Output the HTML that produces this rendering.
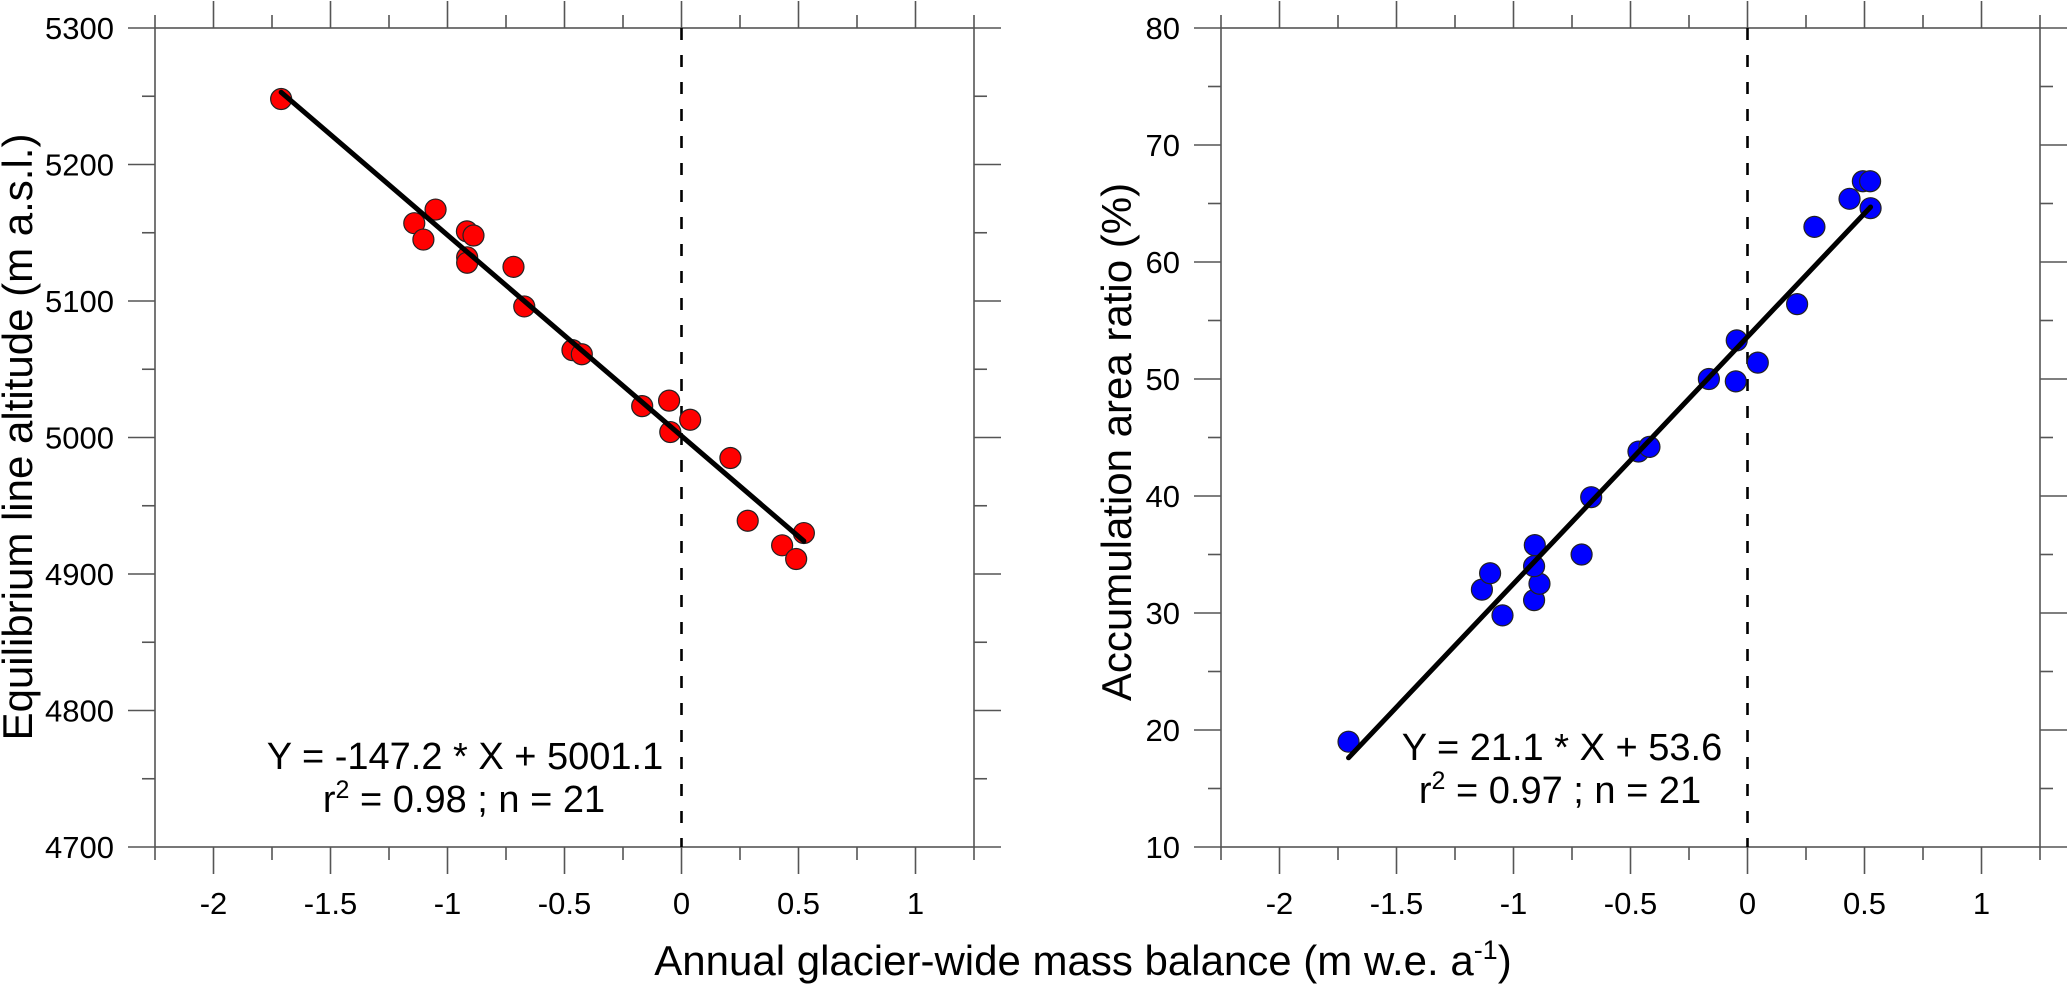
<!DOCTYPE html>
<html><head><meta charset="utf-8"><style>
html,body{margin:0;padding:0;background:#fff;}
svg{display:block;font-family:"Liberation Sans",Arial,sans-serif;}
</style></head><body>
<svg id="chart" width="2068" height="985" viewBox="0 0 2068 985" xmlns="http://www.w3.org/2000/svg">
<g id="left"></g>
<g id="right"></g>
<text x="1083" y="975" font-size="42" text-anchor="middle">Annual glacier-wide mass balance (m w.e. a<tspan font-size="27" dy="-16">-1</tspan><tspan dy="16">)</tspan></text>
<text transform="translate(32,437) rotate(-90)" font-size="42" text-anchor="middle">Equilibrium line altitude (m a.s.l.)</text>
<text transform="translate(1131,442) rotate(-90)" font-size="42" text-anchor="middle">Accumulation area ratio (%)</text>
<text x="465" y="769" font-size="38" text-anchor="middle">Y = -147.2 * X + 5001.1</text>
<text x="464" y="812" font-size="38" text-anchor="middle">r<tspan font-size="25" dy="-14">2</tspan><tspan dy="14"> = 0.98 ; n = 21</tspan></text>
<text x="1562" y="760" font-size="38" text-anchor="middle">Y = 21.1 * X + 53.6</text>
<text x="1560" y="803" font-size="38" text-anchor="middle">r<tspan font-size="25" dy="-14">2</tspan><tspan dy="14"> = 0.97 ; n = 21</tspan></text>
</svg>
<script>
const xTicks = [-2, -1.5, -1, -0.5, 0, 0.5, 1];
const xTickLabels = ["-2", "-1.5", "-1", "-0.5", "0", "0.5", "1"];
const elaTicks = [4700, 4800, 4900, 5000, 5100, 5200, 5300];
const aarTicks = [10, 20, 30, 40, 50, 60, 70, 80];
const elaX = [-1.711,-1.051,-1.142,-1.103,-0.917,-0.889,-0.916,-0.916,-0.718,-0.672,-0.466,-0.426,-0.168,-0.053,-0.048,0.037,0.209,0.283,0.430,0.490,0.523];
const elaY = [5248,5167,5157,5145,5151,5148,5132,5128,5125,5096,5064,5061,5023,5027,5004,5013,4985,4939,4921,4911,4930];
const aarX = [-1.705,-1.047,-1.135,-1.100,-0.912,-0.889,-0.912,-0.909,-0.709,-0.668,-0.466,-0.419,-0.165,-0.050,-0.046,0.044,0.212,0.286,0.436,0.493,0.524,0.526];
const aarY = [19.0,29.8,32.0,33.4,31.1,32.5,34.0,35.8,35.0,39.9,43.8,44.2,50.0,49.8,53.3,51.4,56.4,63.0,65.4,66.9,66.9,64.6];
const elaFit = [-147.2, 5001.1];
const aarFit = [21.1, 53.6];

const NS = "http://www.w3.org/2000/svg";
function mk(parent, tag, attrs){const e=document.createElementNS(NS,tag);for(const k in attrs)e.setAttribute(k,attrs[k]);parent.appendChild(e);return e;}

function panel(g, left, ticksY, xs, ys, fit, color, prefix){
  const right = left + 819, top = 28, bot = 847;
  const xmin=-2.25, xmax=1.25, ymin=ticksY[0], ymax=ticksY[ticksY.length-1];
  const sx = v => left + (v - xmin) / (xmax - xmin) * (right - left);
  const sy = v => bot - (v - ymin) / (ymax - ymin) * (bot - top);
  const ax = "#555";
  const frame = mk(g,'rect',{x:left,y:top,width:right-left,height:bot-top,fill:'none',stroke:ax,'stroke-width':1.6});
  
  
  for(let i=0;i<=14;i++){
    const v = xmin + i*0.25, X = sx(v), major = (i%2===1);
    const L = major?27:13;
    if(i===0||i===14) { mk(g,'line',{x1:X,y1:top,x2:X,y2:top-13,stroke:ax,'stroke-width':1.6}); mk(g,'line',{x1:X,y1:bot,x2:X,y2:bot+13,stroke:ax,'stroke-width':1.6}); continue; }
    const t1 = mk(g,'line',{x1:X,y1:bot,x2:X,y2:bot+L,stroke:ax,'stroke-width':1.6});
    
    
    mk(g,'line',{x1:X,y1:top,x2:X,y2:top-L,stroke:ax,'stroke-width':1.6});
  }
  xTicks.forEach((v,i)=>{
    const t = mk(g,'text',{x:sx(v),y:914,'font-size':31,'text-anchor':'middle'});
    t.textContent = xTickLabels[i];
    
    
  });
  const step = ticksY[1]-ticksY[0];
  for(let k=0;k<(ticksY.length-1)*2+1;k++){
    const v = ymin + k*step/2, Y = sy(v), major = (k%2===0);
    const L = major?27:13;
    mk(g,'line',{x1:left,y1:Y,x2:left-L,y2:Y,stroke:ax,'stroke-width':1.6});
    mk(g,'line',{x1:right,y1:Y,x2:right+L,y2:Y,stroke:ax,'stroke-width':1.6});
  }
  ticksY.forEach(v=>{
    const t = mk(g,'text',{x:left-41,y:sy(v)+11,'font-size':31,'text-anchor':'end'});
    t.textContent = String(v);
    
    
  });
  const z = mk(g,'line',{x1:sx(0),y1:top,x2:sx(0),y2:bot,stroke:'#000','stroke-width':2.6,'stroke-dasharray':'12 15'});
  
  
  xs.forEach((v,i)=>{
    const c = mk(g,'circle',{cx:sx(v),cy:sy(ys[i]),r:10.5,fill:color,stroke:'#222','stroke-width':1.2});
    
    
  });
  const x0 = Math.min(...xs), x1 = Math.max(...xs);
  const f = mk(g,'line',{x1:sx(x0),y1:sy(fit[0]*x0+fit[1]),x2:sx(x1),y2:sy(fit[0]*x1+fit[1]),stroke:'#000','stroke-width':5,'stroke-linecap':'round'});
  
  
}
panel(document.getElementById('left'), 155, elaTicks, elaX, elaY, elaFit, '#ff0000', 'ela');
panel(document.getElementById('right'), 1221, aarTicks, aarX, aarY, aarFit, '#0000ff', 'aar');
</script>
</body></html>
